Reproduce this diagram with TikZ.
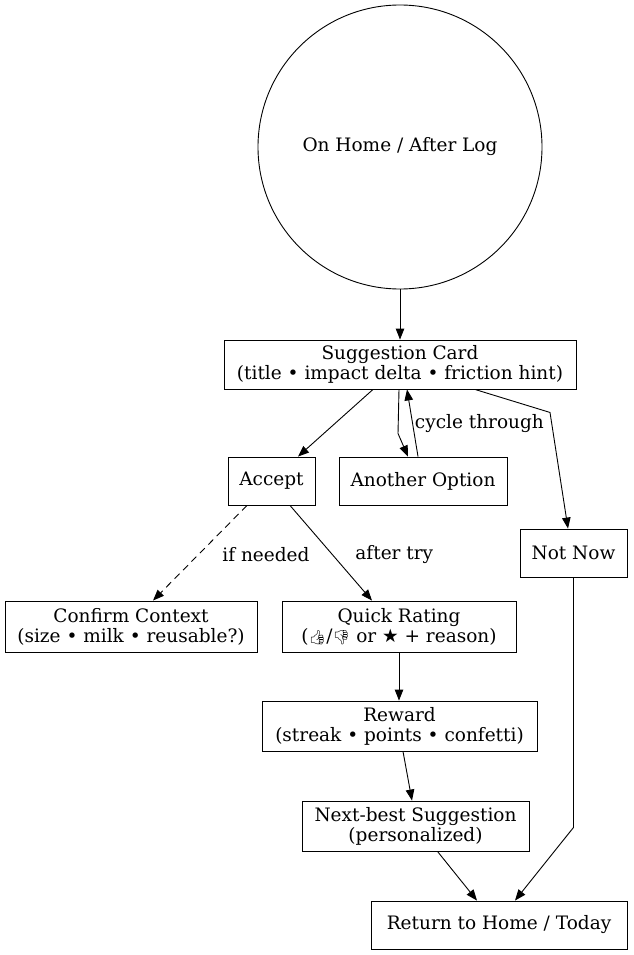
\documentclass[tikz,border=0pt]{standalone}
\usepackage{fontspec}
\setmainfont{DejaVu Serif}
\newfontfamily\emojifont{Noto Emoji}
\newfontfamily\symfont{DejaVu Sans}
\usetikzlibrary{arrows.meta,calc}
\newcommand{\emj}[1]{{\emojifont\fontsize{14}{14}\selectfont #1}}
\begin{document}
\begin{tikzpicture}[x=1pt,y=-1pt,
  every node/.style={font=\fontsize{18.5}{20}\selectfont},
  box/.style={draw,line width=0.9pt,rectangle,align=center,inner sep=0pt},
  arr/.style={line width=0.9pt,-{Triangle[length=11pt,width=8.5pt]}},
  lbl/.style={inner sep=1pt,anchor=west}]
\useasboundingbox (0,0) rectangle (633,955);
\node[draw,line width=0.9pt,circle,minimum size=284pt,inner sep=0pt] (circ) at (400,147) {On Home / After Log};
\node[box,minimum width=352pt,minimum height=49pt] (card) at (400,364.5) {Suggestion Card\\(title • impact delta • friction hint)};
\node[box,minimum width=87pt,minimum height=48pt] (acc) at (271.5,481) {Accept};
\node[box,minimum width=168pt,minimum height=48pt] (ano) at (423,481) {Another Option};
\node[box,minimum width=107pt,minimum height=48pt] (nn) at (573.5,553) {Not Now};
\node[box,minimum width=252pt,minimum height=51pt] (cc) at (131,626.5) {Confirm Context\\(size • milk • reusable?)};
\node[box,minimum width=234pt,minimum height=51pt] (qr) at (399,626.5) {Quick Rating\\(\emj{👍}/\emj{👎} or {\symfont ★} + reason)};
\node[box,minimum width=275pt,minimum height=50pt] (rw) at (399.5,726) {Reward\\(streak • points • confetti)};
\node[box,minimum width=227pt,minimum height=50pt] (nb) at (415.5,826) {Next-best Suggestion\\(personalized)};
\node[box,minimum width=256pt,minimum height=48pt] (ret) at (499,925) {Return to Home / Today};

\draw[arr] (circ.south) -- (card.north);
\draw[arr] ([xshift=-27pt]card.south) -- ([xshift=26.5pt]acc.north);
\draw[arr] ([xshift=-1pt]card.south) -- ++(-1,44) -- ([xshift=-15pt]ano.north);
\draw[arr] ([xshift=-5pt]ano.north) -- node[lbl,xshift=1pt,yshift=-1pt] {cycle through} ([xshift=7pt]card.south);
\draw[arr] ([xshift=75pt]card.south) -- ++(75,23) -- ([xshift=-5.5pt]nn.north);
\draw[arr,dashed,dash pattern=on 7pt off 5pt] ([xshift=-24.5pt]acc.south) -- node[lbl,xshift=21pt,yshift=-1.5pt] {if needed} ([xshift=22pt]cc.north);
\draw[arr] ([xshift=18.5pt]acc.south) -- node[lbl,xshift=23pt,yshift=-1.5pt] {after try} ([xshift=-27pt]qr.north);
\draw[arr] (qr.south) -- (qr.south |- rw.north);
\draw[arr] ([xshift=3.5pt]rw.south) -- ([xshift=-3.5pt]nb.north);
\draw[arr] ([xshift=22pt]nb.south) -- ([xshift=-22pt]ret.north);
\draw[arr] (nn.south) -- ++(0,250) -- ([xshift=16pt]ret.north);
\end{tikzpicture}
\end{document}
